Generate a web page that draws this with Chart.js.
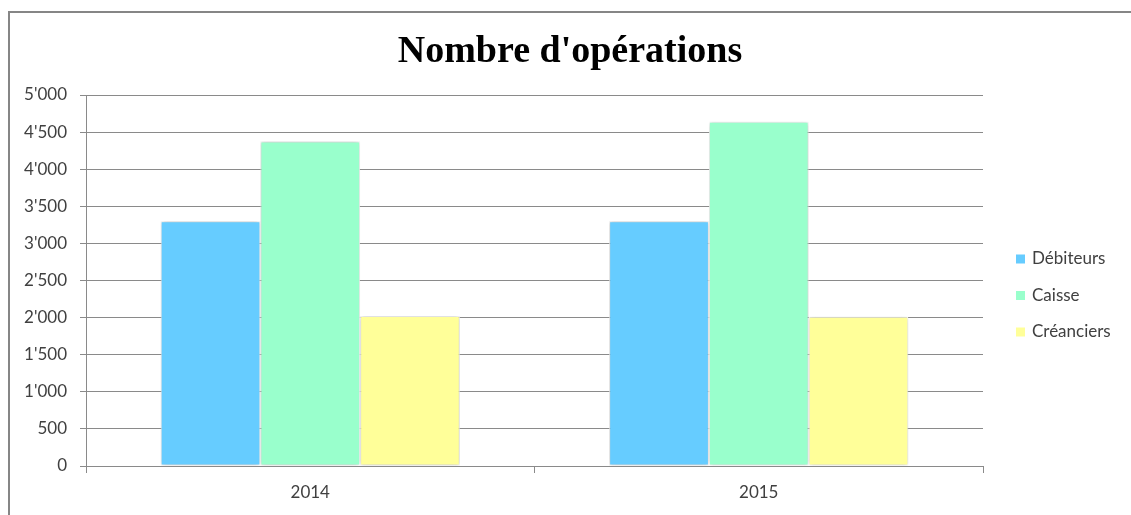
<!DOCTYPE html>
<html>
<head>
<meta charset="utf-8">
<script src="https://cdn.jsdelivr.net/npm/chart.js@4"></script>
<style>
    html, body { margin: 0; padding: 0; background: #fff; overflow: hidden; }
    #wrap { position: relative; width: 1131px; height: 515px; }
    #frame {
        position: absolute; left: 8px; top: 11px; width: 1200px; height: 600px;
        border-top: 2px solid #868686; border-left: 2px solid #868686;
        pointer-events: none;
    }
    canvas { position: absolute; left: 0; top: 0; }
</style>
</head>
<body>
<div id="wrap">
    <canvas id="chart" width="1131" height="515"></canvas>
    <div id="frame"></div>
</div>
<script>
// Data
const years = ['2014', '2015'];
const debiteurs = [3300, 3300];
const caisse = [4375, 4640];
const creanciers = [2020, 2010];
const yTicks = [0, 500, 1000, 1500, 2000, 2500, 3000, 3500, 4000, 4500, 5000];
const chartTitle = "Nombre d'opérations";

const textColor = '#404040';
const gridColor = '#8a8a8a';

// thousands with an apostrophe, e.g. 4'500
function fmt(v) {
    return String(v).replace(/\B(?=(\d{3})+(?!\d))/g, "'");
}

// Soft shadow behind the bars
const barShadow = {
    id: 'barShadow',
    beforeDatasetsDraw(chart) {
        const ctx = chart.ctx;
        ctx.save();
        ctx.shadowColor = 'rgba(0,0,0,0.28)';
        ctx.shadowBlur = 5;
        ctx.shadowOffsetX = 0;
        ctx.shadowOffsetY = 0;
    },
    afterDatasetsDraw(chart) {
        chart.ctx.restore();
    }
};

// Title centred on the whole canvas (the built-in one centres on the padded area)
const topTitle = {
    id: 'topTitle',
    afterDraw(chart) {
        const ctx = chart.ctx;
        ctx.save();
        ctx.font = 'bold 38px "Liberation Serif"';
        ctx.fillStyle = '#000';
        ctx.textAlign = 'center';
        ctx.textBaseline = 'alphabetic';
        ctx.fillText(chartTitle, 570, 62);
        ctx.restore();
    }
};

// Legend on the right, built from the datasets
const sideLegend = {
    id: 'sideLegend',
    afterDraw(chart) {
        const ctx = chart.ctx;
        const x = chart.chartArea.right + 33;
        const y0 = 259;
        const step = 36.5;
        ctx.save();
        ctx.font = '17px Lato';
        ctx.textBaseline = 'middle';
        chart.data.datasets.forEach((ds, i) => {
            const y = y0 + i * step;
            ctx.fillStyle = ds.backgroundColor;
            ctx.fillRect(x, y - 4.5, 9, 9);
            ctx.fillStyle = textColor;
            ctx.fillText(ds.label, x + 16, y);
        });
        ctx.restore();
    }
};

new Chart(document.getElementById('chart'), {
    type: 'bar',
    data: {
        labels: years,
        datasets: [
            { label: 'Débiteurs', data: debiteurs, backgroundColor: '#66CCFF' },
            { label: 'Caisse', data: caisse, backgroundColor: '#99FFCC' },
            { label: 'Créanciers', data: creanciers, backgroundColor: '#FFFF99' }
        ]
    },
    options: {
        responsive: false,
        animation: false,
        layout: { padding: { left: 10, right: 148, top: 95, bottom: 13 } },
        datasets: {
            bar: {
                categoryPercentage: 0.667,
                barPercentage: 1.0,
                borderColor: '#ffffff',
                borderWidth: 1,
                borderSkipped: false
            }
        },
        plugins: {
            legend: { display: false },
            tooltip: { enabled: false },
            title: { display: false }
        },
        scales: {
            x: {
                grid: {
                    offset: true,
                    drawOnChartArea: false,
                    tickLength: 7,
                    color: gridColor
                },
                border: { color: gridColor },
                ticks: {
                    color: textColor,
                    font: { family: 'Lato', size: 17 },
                    padding: 9
                },
                afterFit(s) { s.height = 36; }
            },
            y: {
                min: 0,
                max: 5000,
                afterBuildTicks(s) { s.ticks = yTicks.map(v => ({ value: v })); },
                grid: { color: gridColor, tickLength: 6 },
                border: { color: gridColor },
                ticks: {
                    color: textColor,
                    font: { family: 'Lato', size: 17 },
                    padding: 13,
                    callback: v => fmt(v)
                },
                afterFit(s) { s.width = 76; }
            }
        }
    },
    plugins: [barShadow, topTitle, sideLegend]
});
</script>
</body>
</html>
